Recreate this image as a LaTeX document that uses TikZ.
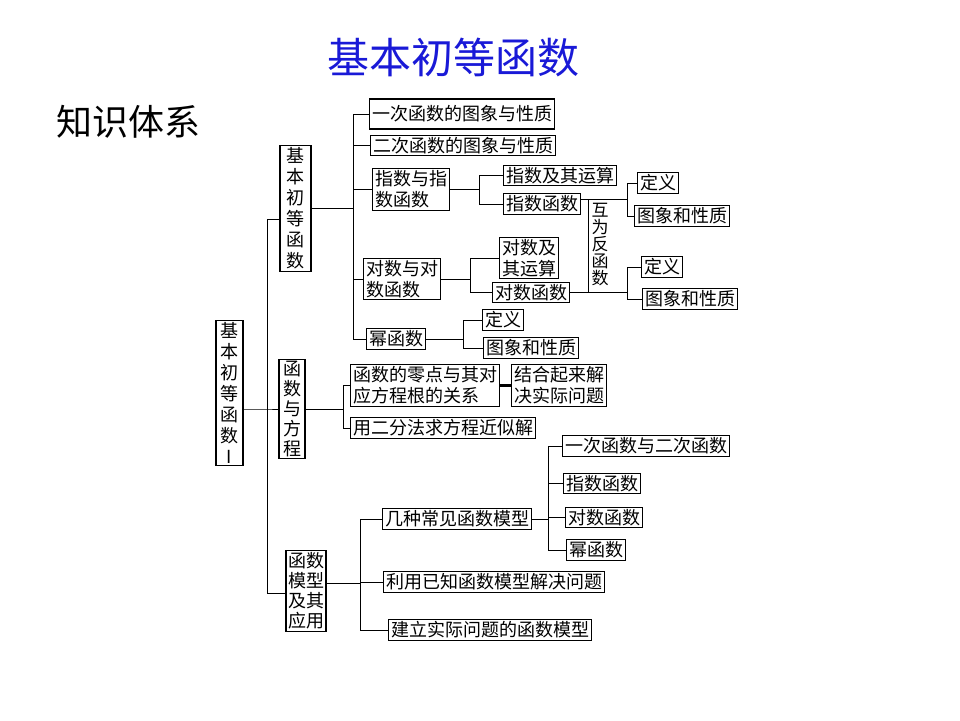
\documentclass[tikz,border=0pt]{standalone}
\usepackage{fontspec}
\setmainfont{Noto Sans CJK SC}
\definecolor{titleblue}{RGB}{25,25,215}

\begin{document}
\begin{tikzpicture}[x=1pt, y=-1pt,
        box/.style = {draw, line width=1.1pt, anchor=west, inner xsep=2.5pt, inner ysep=2pt,
                      align=left, font=\fontsize{18}{21}\selectfont},
        colbox/.style = {box, anchor=center, align=center, font=\fontsize{18}{20}\selectfont},
        link/.style = {line width=1pt}]
        \useasboundingbox (0,0) rectangle (960,720);

        \node[font=\fontsize{42}{42}\selectfont, text=titleblue] (title) at (453,57) {基本初等函数};
        \node[font=\fontsize{36}{36}\selectfont] (system) at (128,122) {知识体系};

        \node[colbox, font=\fontsize{18}{21}\selectfont, inner xsep=4.5pt] (root) at (229.5,393) {基\\本\\初\\等\\函\\数\\I};
        \node[colbox, font=\fontsize{18}{21}\selectfont, inner xsep=6.5pt] (elem) at (295.5,208.5) {基\\本\\初\\等\\函\\数};
        \node[colbox, inner xsep=4pt] (equ) at (292,409) {函\\数\\与\\方\\程};
        \node[colbox, inner xsep=2pt] (model) at (306,591) {函数\\模型\\及其\\应用};

        \coordinate (j0) at (267,409);
        \draw[link] ([yshift=-16pt]root.east) -- (j0) -- (equ);
        \draw[link] (j0) |- ([yshift=-11pt]elem.west);
        \draw[link] (j0) |- ([yshift=-2pt]model.west);

        % basic elementary functions
        \node[box, minimum height=30pt] (lin) at (369,114) {一次函数的图象与性质};
        \node[box] (quad) at (370,145.5) {二次函数的图象与性质};
        \node[box] (expo) at (372,189.5) {指数与指\\数函数};
        \node[box] (loga) at (363,279) {对数与对\\数函数};
        \node[box] (pow) at (366,339) {幂函数};

        \coordinate (j1) at (353,208.5);
        \draw[link] (elem) -- (j1);
        \foreach \c in {lin,quad,expo,loga,pow}
            \draw[link] (j1) |- (\c.west);

        \node[box] (expop) at (503,175.5) {指数及其运算};
        \node[box] (expfn) at (503,204) {指数函数};
        \coordinate (j13) at (479,189.5);
        \draw[link] (expo) -- (j13);
        \draw[link] (j13) |- (expop.west);
        \draw[link] (j13) |- (expfn.west);

        \node[box] (logop) at (499,258) {对数及\\其运算};
        \node[box] (logfn) at (492,292.5) {对数函数};
        \coordinate (j14) at (470,279);
        \draw[link] (loga) -- (j14);
        \draw[link] (j14) |- (logop.west);
        \draw[link] (j14) |- (logfn.west);

        \coordinate (ka) at (588,199);
        \coordinate (kb) at (588,292.5);
        \coordinate (ja) at (627,199);
        \coordinate (jb) at (627,292.5);
        \draw[link] ([yshift=5pt]expfn.east) -- (ja);
        \draw[link] (logfn.east) -- (jb);
        \draw[link] (ka) -- (kb);
        \node[font=\fontsize{17}{17}\selectfont, align=center] (inverse) at (600,244.5) {互\\为\\反\\函\\数};

        \node[box] (expdef) at (637,183) {定义};
        \node[box] (expgr) at (634,216) {图象和性质};
        \node[box] (logdef) at (641,267) {定义};
        \node[box] (loggr) at (642,299) {图象和性质};
        \draw[link] (ja) |- (expdef.west);
        \draw[link] (ja) |- (expgr.west);
        \draw[link] (jb) |- (logdef.west);
        \draw[link] (jb) |- (loggr.west);

        \node[box] (powdef) at (482,320) {定义};
        \node[box] (powgr) at (483,348) {图象和性质};
        \coordinate (j15) at (463,339);
        \draw[link] (pow) -- (j15);
        \draw[link] (j15) |- (powdef.west);
        \draw[link] (j15) |- (powgr.west);

        % functions and equations
        \node[box] (zero) at (350,385.5) {函数的零点与其对\\应方程根的关系};
        \node[box] (solve) at (511,385.5) {结合起来解\\决实际问题};
        \node[box] (bisect) at (350,428) {用二分法求方程近似解};
        \coordinate (j2) at (343,409);
        \draw[link] (equ) -- (j2);
        \draw[link] (j2) |- (zero.west);
        \draw[link] (j2) |- (bisect.west);
        \draw[line width=2.5pt] (zero) -- (solve);

        % function models
        \node[box] (kinds) at (382,519) {几种常见函数模型};
        \node[box] (known) at (383,582) {利用已知函数模型解决问题};
        \node[box] (build) at (388,630) {建立实际问题的函数模型};
        \coordinate (j3) at (360,583);
        \draw[link] ([yshift=8pt]model.east) -- (j3);
        \foreach \c in {kinds,known,build}
            \draw[link] (j3) |- (\c.west);

        \node[box] (linquad) at (562,446) {一次函数与二次函数};
        \node[box] (expm) at (563,483.5) {指数函数};
        \node[box] (logm) at (565,517.5) {对数函数};
        \node[box] (powm) at (566,550) {幂函数};
        \coordinate (j31) at (548,519);
        \draw[link] (kinds) -- (j31);
        \foreach \c in {linquad,expm,logm,powm}
            \draw[link] (j31) |- (\c.west);
\end{tikzpicture}
\end{document}
